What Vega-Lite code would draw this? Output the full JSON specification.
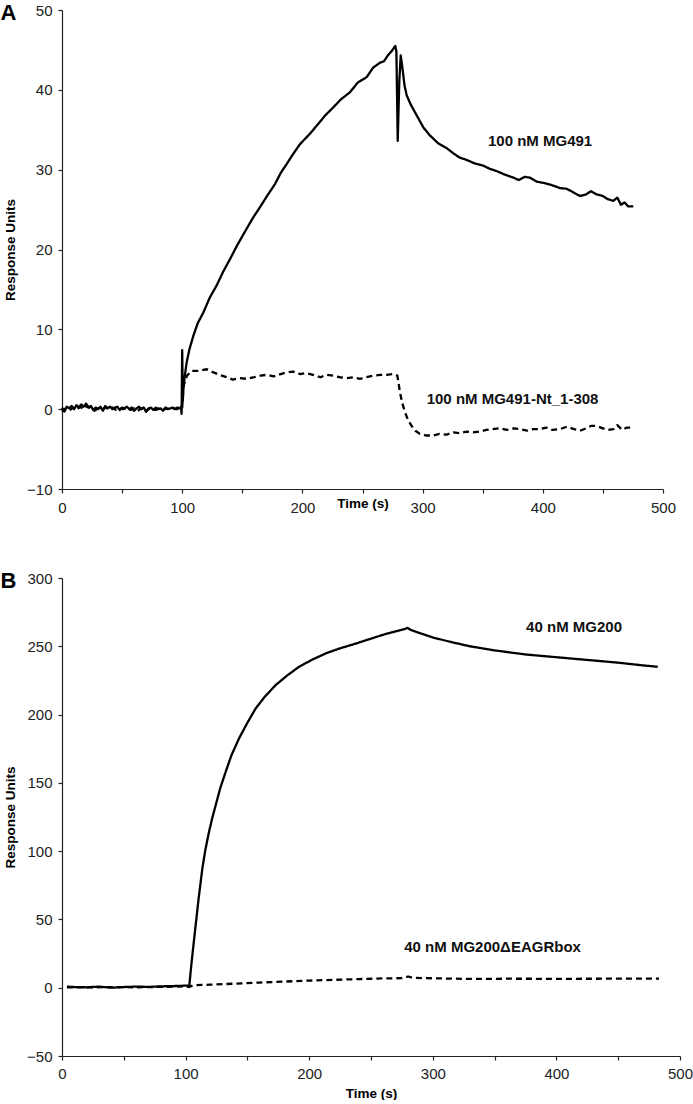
{
  "$schema": "https://vega.github.io/schema/vega-lite/v6.json",
  "padding": {"left": 0, "top": 2, "right": 5, "bottom": 0},
  "background": "white",
  "config": {
    "view": {"stroke": null},
    "font": "Liberation Sans",
    "axis": {
      "grid": false,
      "domainColor": "#222",
      "tickColor": "#222",
      "labelColor": "#222",
      "labelFont": "Liberation Sans",
      "labelFontSize": 15,
      "labelFlush": false,
      "titleFont": "Liberation Sans",
      "titleFontSize": 13.5,
      "titleFontWeight": "bold",
      "titleColor": "#000",
      "tickSize": 4,
      "domainWidth": 1.2,
      "tickWidth": 1.2
    },
    "title": {"font": "Liberation Sans", "fontSize": 22, "fontWeight": "bold", "color": "#000", "anchor": "start", "frame": "bounds"}
  },
  "spacing": 55,
  "datasets": {
    "a": [
      {"t":0,"v":0.2,"s":"solid"},{"t":2,"v":-0.3,"s":"solid"},{"t":4,"v":0.3,"s":"solid"},{"t":6,"v":0.1,"s":"solid"},{"t":8,"v":0.4,"s":"solid"},{"t":10,"v":0.0,"s":"solid"},{"t":12,"v":0.5,"s":"solid"},{"t":14,"v":0.2,"s":"solid"},{"t":16,"v":0.6,"s":"solid"},{"t":18,"v":0.3,"s":"solid"},{"t":20,"v":0.7,"s":"solid"},{"t":22,"v":0.2,"s":"solid"},{"t":24,"v":0.4,"s":"solid"},{"t":26,"v":-0.1,"s":"solid"},{"t":28,"v":0.2,"s":"solid"},{"t":30,"v":0.0,"s":"solid"},{"t":32,"v":0.3,"s":"solid"},{"t":34,"v":-0.2,"s":"solid"},{"t":36,"v":0.4,"s":"solid"},{"t":38,"v":0.1,"s":"solid"},{"t":40,"v":0.3,"s":"solid"},{"t":42,"v":0.0,"s":"solid"},{"t":44,"v":0.2,"s":"solid"},{"t":46,"v":0.3,"s":"solid"},{"t":48,"v":-0.1,"s":"solid"},{"t":50,"v":0.2,"s":"solid"},{"t":52,"v":0.1,"s":"solid"},{"t":54,"v":0.3,"s":"solid"},{"t":56,"v":0.0,"s":"solid"},{"t":58,"v":0.2,"s":"solid"},{"t":60,"v":-0.2,"s":"solid"},{"t":62,"v":0.1,"s":"solid"},{"t":64,"v":0.3,"s":"solid"},{"t":66,"v":0.0,"s":"solid"},{"t":68,"v":0.2,"s":"solid"},{"t":70,"v":-0.3,"s":"solid"},{"t":72,"v":0.1,"s":"solid"},{"t":74,"v":0.2,"s":"solid"},{"t":76,"v":-0.1,"s":"solid"},{"t":78,"v":0.2,"s":"solid"},{"t":80,"v":0.0,"s":"solid"},{"t":82,"v":0.1,"s":"solid"},{"t":84,"v":-0.2,"s":"solid"},{"t":86,"v":0.2,"s":"solid"},{"t":88,"v":0.0,"s":"solid"},{"t":90,"v":0.1,"s":"solid"},{"t":92,"v":0.2,"s":"solid"},{"t":94,"v":0.0,"s":"solid"},{"t":96,"v":0.2,"s":"solid"},{"t":98,"v":0.1,"s":"solid"},{"t":99,"v":0.3,"s":"solid"},{"t":99.5,"v":-0.6,"s":"solid"},{"t":100,"v":7.4,"s":"solid"},{"t":100.5,"v":1.0,"s":"solid"},{"t":101,"v":2.5,"s":"solid"},{"t":102,"v":4.0,"s":"solid"},{"t":103.7,"v":5.85,"s":"solid"},{"t":106,"v":7.5,"s":"solid"},{"t":109.3,"v":9.2,"s":"solid"},{"t":113,"v":10.8,"s":"solid"},{"t":117.6,"v":12.1,"s":"solid"},{"t":123,"v":14.0,"s":"solid"},{"t":128.7,"v":15.5,"s":"solid"},{"t":134,"v":17.2,"s":"solid"},{"t":139.8,"v":18.8,"s":"solid"},{"t":146,"v":20.6,"s":"solid"},{"t":153.6,"v":22.6,"s":"solid"},{"t":159,"v":24.0,"s":"solid"},{"t":164.7,"v":25.3,"s":"solid"},{"t":171,"v":26.8,"s":"solid"},{"t":177.2,"v":28.2,"s":"solid"},{"t":182,"v":29.6,"s":"solid"},{"t":186.9,"v":30.7,"s":"solid"},{"t":192,"v":31.9,"s":"solid"},{"t":198,"v":33.2,"s":"solid"},{"t":205,"v":34.3,"s":"solid"},{"t":211.9,"v":35.5,"s":"solid"},{"t":219,"v":36.8,"s":"solid"},{"t":225.7,"v":37.8,"s":"solid"},{"t":232,"v":38.8,"s":"solid"},{"t":239.6,"v":39.7,"s":"solid"},{"t":246,"v":40.9,"s":"solid"},{"t":253.5,"v":41.6,"s":"solid"},{"t":259,"v":42.8,"s":"solid"},{"t":264.6,"v":43.4,"s":"solid"},{"t":268,"v":43.6,"s":"solid"},{"t":271,"v":44.3,"s":"solid"},{"t":274,"v":44.8,"s":"solid"},{"t":277.3,"v":45.5,"s":"solid"},{"t":278.2,"v":44.8,"s":"solid"},{"t":279.3,"v":33.6,"s":"solid"},{"t":280.6,"v":41.0,"s":"solid"},{"t":281.8,"v":44.3,"s":"solid"},{"t":283,"v":43.0,"s":"solid"},{"t":285,"v":40.5,"s":"solid"},{"t":286.8,"v":39.3,"s":"solid"},{"t":290,"v":38.2,"s":"solid"},{"t":295.1,"v":36.8,"s":"solid"},{"t":300.6,"v":35.3,"s":"solid"},{"t":306,"v":34.3,"s":"solid"},{"t":313,"v":33.3,"s":"solid"},{"t":320,"v":32.7,"s":"solid"},{"t":326,"v":32.0,"s":"solid"},{"t":331,"v":31.5,"s":"solid"},{"t":337,"v":31.2,"s":"solid"},{"t":343,"v":30.8,"s":"solid"},{"t":350.5,"v":30.5,"s":"solid"},{"t":356,"v":30.1,"s":"solid"},{"t":362,"v":29.8,"s":"solid"},{"t":368,"v":29.4,"s":"solid"},{"t":375.5,"v":29.0,"s":"solid"},{"t":380,"v":28.7,"s":"solid"},{"t":385,"v":29.1,"s":"solid"},{"t":389.4,"v":29.0,"s":"solid"},{"t":395,"v":28.5,"s":"solid"},{"t":402,"v":28.3,"s":"solid"},{"t":408.8,"v":28.0,"s":"solid"},{"t":414,"v":27.7,"s":"solid"},{"t":420,"v":27.6,"s":"solid"},{"t":426,"v":27.1,"s":"solid"},{"t":431,"v":26.7,"s":"solid"},{"t":436,"v":26.9,"s":"solid"},{"t":440,"v":27.3,"s":"solid"},{"t":444.8,"v":26.9,"s":"solid"},{"t":450,"v":26.7,"s":"solid"},{"t":454,"v":26.3,"s":"solid"},{"t":458.7,"v":26.1,"s":"solid"},{"t":462,"v":26.5,"s":"solid"},{"t":465,"v":25.6,"s":"solid"},{"t":468,"v":25.9,"s":"solid"},{"t":471,"v":25.4,"s":"solid"},{"t":475.3,"v":25.4,"s":"solid"},

      {"t":0,"v":-0.3,"s":"dash"},{"t":3,"v":0.1,"s":"dash"},{"t":6,"v":-0.2,"s":"dash"},{"t":9,"v":0.2,"s":"dash"},{"t":12,"v":-0.1,"s":"dash"},{"t":15,"v":0.3,"s":"dash"},{"t":18,"v":0.0,"s":"dash"},{"t":21,"v":0.4,"s":"dash"},{"t":24,"v":0.1,"s":"dash"},{"t":27,"v":-0.2,"s":"dash"},{"t":30,"v":0.1,"s":"dash"},{"t":33,"v":-0.1,"s":"dash"},{"t":36,"v":0.2,"s":"dash"},{"t":39,"v":0.0,"s":"dash"},{"t":42,"v":0.2,"s":"dash"},{"t":45,"v":-0.1,"s":"dash"},{"t":48,"v":0.1,"s":"dash"},{"t":51,"v":0.0,"s":"dash"},{"t":54,"v":0.2,"s":"dash"},{"t":57,"v":-0.1,"s":"dash"},{"t":60,"v":0.1,"s":"dash"},{"t":63,"v":-0.2,"s":"dash"},{"t":66,"v":0.1,"s":"dash"},{"t":69,"v":-0.4,"s":"dash"},{"t":72,"v":0.0,"s":"dash"},{"t":75,"v":0.1,"s":"dash"},{"t":78,"v":-0.1,"s":"dash"},{"t":81,"v":0.1,"s":"dash"},{"t":84,"v":-0.1,"s":"dash"},{"t":87,"v":0.1,"s":"dash"},{"t":90,"v":0.0,"s":"dash"},{"t":93,"v":0.1,"s":"dash"},{"t":96,"v":0.0,"s":"dash"},{"t":99,"v":0.1,"s":"dash"},{"t":100,"v":0.2,"s":"dash"},{"t":101,"v":2.9,"s":"dash"},{"t":104,"v":4.2,"s":"dash"},{"t":107.9,"v":4.8,"s":"dash"},{"t":113,"v":4.8,"s":"dash"},{"t":120.4,"v":5.0,"s":"dash"},{"t":126,"v":4.6,"s":"dash"},{"t":131,"v":4.3,"s":"dash"},{"t":137,"v":4.0,"s":"dash"},{"t":142,"v":3.7,"s":"dash"},{"t":148,"v":3.9,"s":"dash"},{"t":153.6,"v":3.8,"s":"dash"},{"t":160,"v":4.0,"s":"dash"},{"t":165,"v":4.2,"s":"dash"},{"t":170.3,"v":4.3,"s":"dash"},{"t":176,"v":4.1,"s":"dash"},{"t":182,"v":4.4,"s":"dash"},{"t":187,"v":4.6,"s":"dash"},{"t":192.4,"v":4.7,"s":"dash"},{"t":198,"v":4.4,"s":"dash"},{"t":203,"v":4.5,"s":"dash"},{"t":209,"v":4.3,"s":"dash"},{"t":215,"v":4.0,"s":"dash"},{"t":220,"v":4.3,"s":"dash"},{"t":225.7,"v":4.2,"s":"dash"},{"t":231,"v":4.0,"s":"dash"},{"t":237,"v":3.9,"s":"dash"},{"t":242.4,"v":4.0,"s":"dash"},{"t":248,"v":3.8,"s":"dash"},{"t":253,"v":4.0,"s":"dash"},{"t":259,"v":4.2,"s":"dash"},{"t":265,"v":4.3,"s":"dash"},{"t":270,"v":4.3,"s":"dash"},{"t":275.6,"v":4.4,"s":"dash"},{"t":279,"v":4.2,"s":"dash"},{"t":281.2,"v":2.1,"s":"dash"},{"t":283,"v":0.8,"s":"dash"},{"t":285.4,"v":-0.4,"s":"dash"},{"t":288,"v":-1.4,"s":"dash"},{"t":290.9,"v":-2.1,"s":"dash"},{"t":294,"v":-2.7,"s":"dash"},{"t":297.8,"v":-3.1,"s":"dash"},{"t":303,"v":-3.3,"s":"dash"},{"t":308.9,"v":-3.3,"s":"dash"},{"t":314,"v":-3.1,"s":"dash"},{"t":320,"v":-3.2,"s":"dash"},{"t":325.5,"v":-2.9,"s":"dash"},{"t":331,"v":-3.0,"s":"dash"},{"t":337,"v":-2.8,"s":"dash"},{"t":342,"v":-2.9,"s":"dash"},{"t":347.8,"v":-2.8,"s":"dash"},{"t":353,"v":-2.6,"s":"dash"},{"t":358,"v":-2.5,"s":"dash"},{"t":364.4,"v":-2.4,"s":"dash"},{"t":370,"v":-2.6,"s":"dash"},{"t":376,"v":-2.4,"s":"dash"},{"t":381,"v":-2.5,"s":"dash"},{"t":387,"v":-2.7,"s":"dash"},{"t":392,"v":-2.5,"s":"dash"},{"t":397.7,"v":-2.5,"s":"dash"},{"t":403,"v":-2.3,"s":"dash"},{"t":408,"v":-2.6,"s":"dash"},{"t":414.3,"v":-2.5,"s":"dash"},{"t":420,"v":-2.2,"s":"dash"},{"t":426,"v":-2.5,"s":"dash"},{"t":431,"v":-2.7,"s":"dash"},{"t":436,"v":-2.4,"s":"dash"},{"t":440,"v":-2.1,"s":"dash"},{"t":444.8,"v":-2.1,"s":"dash"},{"t":450,"v":-2.4,"s":"dash"},{"t":454,"v":-2.6,"s":"dash"},{"t":458.7,"v":-2.5,"s":"dash"},{"t":462,"v":-2.0,"s":"dash"},{"t":466,"v":-2.6,"s":"dash"},{"t":470,"v":-2.3,"s":"dash"},{"t":475.3,"v":-2.3,"s":"dash"}
    ],
    "b": [
      {"t":4,"v":0.8,"s":"solid"},{"t":10,"v":0.5,"s":"solid"},{"t":20,"v":0.3,"s":"solid"},{"t":30,"v":0.8,"s":"solid"},{"t":40,"v":0.0,"s":"solid"},{"t":50,"v":0.5,"s":"solid"},{"t":60,"v":0.8,"s":"solid"},{"t":70,"v":0.6,"s":"solid"},{"t":80,"v":1.0,"s":"solid"},{"t":90,"v":1.2,"s":"solid"},{"t":100,"v":1.5,"s":"solid"},{"t":103,"v":1.5,"s":"solid"},{"t":105,"v":20,"s":"solid"},{"t":108.1,"v":45.5,"s":"solid"},{"t":110.5,"v":65,"s":"solid"},{"t":113.5,"v":87,"s":"solid"},{"t":116,"v":101,"s":"solid"},{"t":118.9,"v":114,"s":"solid"},{"t":121.5,"v":124,"s":"solid"},{"t":124.3,"v":133.5,"s":"solid"},{"t":128,"v":146,"s":"solid"},{"t":132.4,"v":158,"s":"solid"},{"t":137,"v":170,"s":"solid"},{"t":143.2,"v":182.5,"s":"solid"},{"t":150,"v":194,"s":"solid"},{"t":156.7,"v":204.5,"s":"solid"},{"t":164,"v":213,"s":"solid"},{"t":172.9,"v":221.6,"s":"solid"},{"t":182,"v":228.5,"s":"solid"},{"t":191.8,"v":235,"s":"solid"},{"t":202,"v":240,"s":"solid"},{"t":213.4,"v":244.8,"s":"solid"},{"t":225,"v":248.5,"s":"solid"},{"t":237.8,"v":252,"s":"solid"},{"t":248,"v":255,"s":"solid"},{"t":259.3,"v":258.3,"s":"solid"},{"t":270,"v":261,"s":"solid"},{"t":277,"v":262.5,"s":"solid"},{"t":279.6,"v":263.5,"s":"solid"},{"t":282,"v":262,"s":"solid"},{"t":290,"v":259.5,"s":"solid"},{"t":300,"v":256.5,"s":"solid"},{"t":313.4,"v":253.4,"s":"solid"},{"t":330,"v":250,"s":"solid"},{"t":350,"v":247,"s":"solid"},{"t":375,"v":244,"s":"solid"},{"t":400,"v":242,"s":"solid"},{"t":425,"v":240,"s":"solid"},{"t":450,"v":238,"s":"solid"},{"t":470,"v":236,"s":"solid"},{"t":482,"v":235,"s":"solid"},

      {"t":4,"v":0.3,"s":"dash"},{"t":20,"v":0.2,"s":"dash"},{"t":40,"v":0.5,"s":"dash"},{"t":60,"v":0.3,"s":"dash"},{"t":80,"v":0.6,"s":"dash"},{"t":100,"v":1.0,"s":"dash"},{"t":103,"v":0.5,"s":"dash"},{"t":106,"v":1.8,"s":"dash"},{"t":120,"v":2.2,"s":"dash"},{"t":140,"v":3.0,"s":"dash"},{"t":160,"v":3.8,"s":"dash"},{"t":180,"v":4.5,"s":"dash"},{"t":200,"v":5.2,"s":"dash"},{"t":220,"v":5.8,"s":"dash"},{"t":240,"v":6.3,"s":"dash"},{"t":260,"v":6.8,"s":"dash"},{"t":275,"v":7.0,"s":"dash"},{"t":280,"v":8.2,"s":"dash"},{"t":284,"v":7.2,"s":"dash"},{"t":300,"v":6.9,"s":"dash"},{"t":330,"v":6.4,"s":"dash"},{"t":360,"v":6.6,"s":"dash"},{"t":400,"v":6.5,"s":"dash"},{"t":440,"v":6.6,"s":"dash"},{"t":483,"v":6.6,"s":"dash"}
    ]
  },
  "vconcat": [
    {
      "width": 601,
      "height": 479,
      "title": {"text": "A", "offset": -22, "dx": -3},
      "layer": [
        {
          "data": {"name": "a"},
          "mark": {"type": "line", "color": "black", "strokeWidth": 2.3, "strokeJoin": "round"},
          "encoding": {
            "x": {"field": "t", "type": "quantitative", "scale": {"domain": [0, 500], "nice": false},
                  "axis": {"title": "Time (s)", "values": [0,50,100,150,200,250,300,350,400,450,500], "labelExpr": "datum.value % 100 === 0 ? datum.label : ''", "labelPadding": 7, "titlePadding": -19}},
            "y": {"field": "v", "type": "quantitative", "scale": {"domain": [-10, 50], "nice": false},
                  "axis": {"title": "Response Units", "values": [-10,-5,0,5,10,15,20,25,30,35,40,45,50], "labelExpr": "datum.value % 10 === 0 ? datum.label : ''", "labelPadding": 6, "titlePadding": 9}},
            "strokeDash": {"field": "s", "type": "nominal", "scale": {"domain": ["solid", "dash"], "range": [[1, 0], [6, 4]]}, "legend": null},
            "detail": {"field": "s"}
          }
        },
        {
          "data": {"values": [{"t": 354.4, "v": 33.6, "label": "100 nM MG491"}, {"t": 303.4, "v": 1.25, "label": "100 nM MG491-Nt_1-308"}]},
          "mark": {"type": "text", "align": "left", "baseline": "middle", "fontSize": 15, "fontWeight": "bold", "color": "#111"},
          "encoding": {
            "x": {"field": "t", "type": "quantitative"},
            "y": {"field": "v", "type": "quantitative"},
            "text": {"field": "label"}
          }
        }
      ]
    },
    {
      "width": 618,
      "height": 478,
      "title": {"text": "B", "offset": -22, "dx": -3},
      "layer": [
        {
          "data": {"name": "b"},
          "mark": {"type": "line", "color": "black", "strokeWidth": 2.3, "strokeJoin": "round"},
          "encoding": {
            "x": {"field": "t", "type": "quantitative", "scale": {"domain": [0, 500], "nice": false},
                  "axis": {"title": "Time (s)", "values": [0,50,100,150,200,250,300,350,400,450,500], "labelExpr": "datum.value % 100 === 0 ? datum.label : ''", "labelPadding": 6, "titlePadding": 5}},
            "y": {"field": "v", "type": "quantitative", "scale": {"domain": [-50, 300], "nice": false},
                  "axis": {"title": "Response Units", "values": [-50,-25,0,25,50,75,100,125,150,175,200,225,250,275,300], "labelExpr": "datum.value % 50 === 0 ? datum.label : ''", "labelPadding": 6, "titlePadding": 9}},
            "strokeDash": {"field": "s", "type": "nominal", "scale": {"domain": ["solid", "dash"], "range": [[1, 0], [7, 5]]}, "legend": null},
            "detail": {"field": "s"}
          }
        },
        {
          "data": {"values": [{"t": 375.5, "v": 264.4, "label": "40 nM MG200"}, {"t": 276.9, "v": 29.6, "label": "40 nM MG200ΔEAGRbox"}]},
          "mark": {"type": "text", "align": "left", "baseline": "middle", "fontSize": 15, "fontWeight": "bold", "color": "#111"},
          "encoding": {
            "x": {"field": "t", "type": "quantitative"},
            "y": {"field": "v", "type": "quantitative"},
            "text": {"field": "label"}
          }
        }
      ]
    }
  ]
}
